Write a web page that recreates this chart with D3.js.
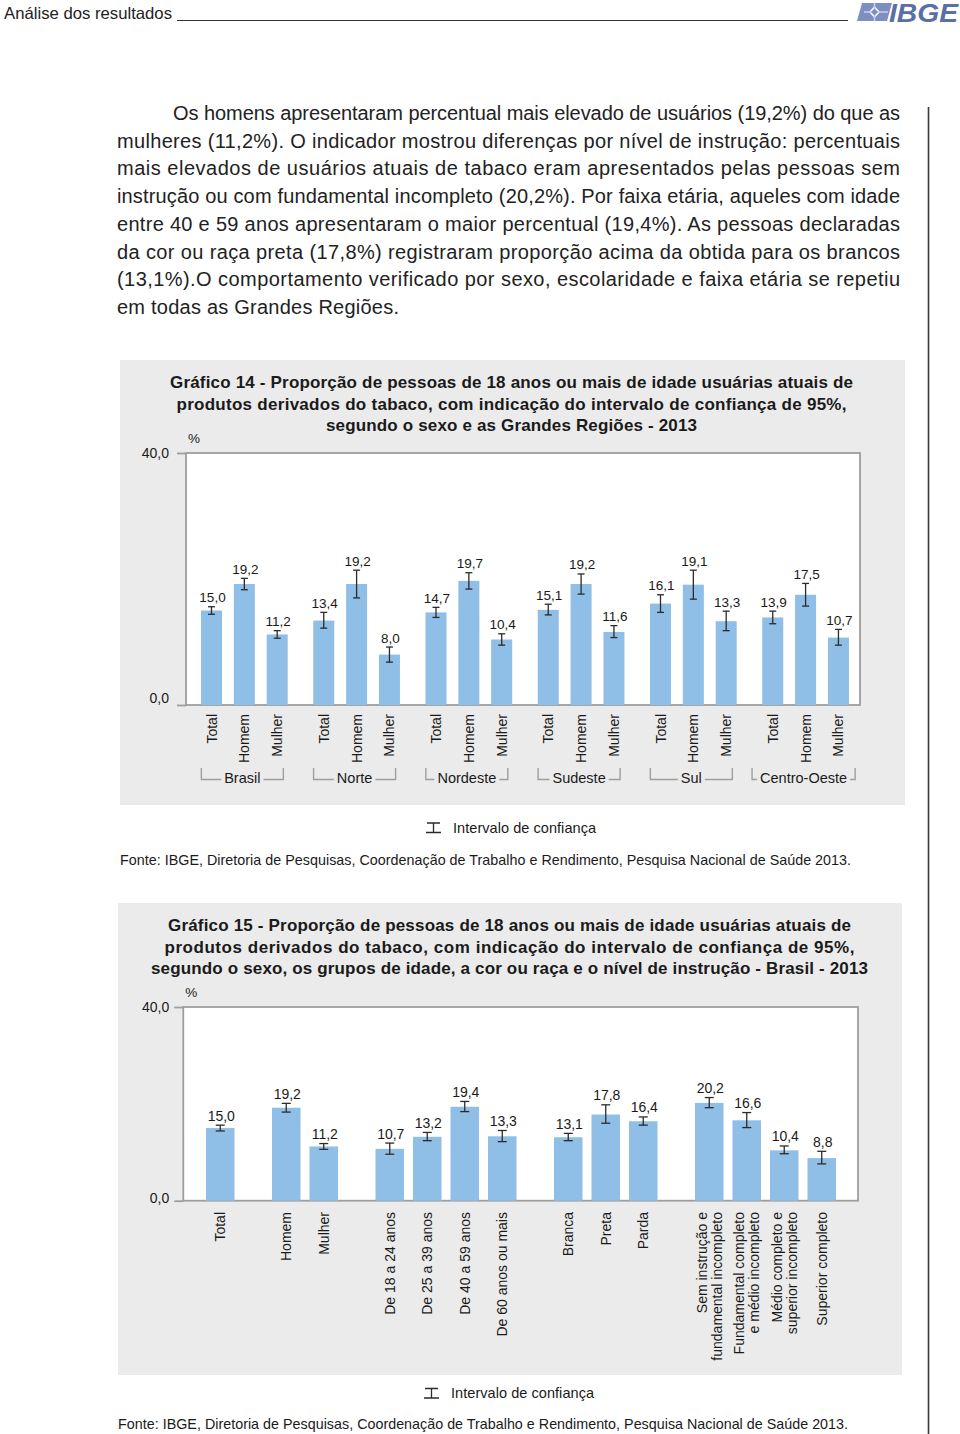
<!DOCTYPE html>
<html><head><meta charset="utf-8">
<script src="https://cdn.jsdelivr.net/npm/d3@7"></script>
<style>
html,body{margin:0;padding:0;background:#fff;}
svg{display:block;font-family:"Liberation Sans",Arial,sans-serif;}
</style></head>
<body>
<svg id="page" width="960" height="1434"></svg>
<script>
// ---------- DATA ----------
const bodyLines = [
  "Os homens apresentaram percentual mais elevado de usuários (19,2%) do que as",
  "mulheres (11,2%). O indicador mostrou diferenças por nível de instrução: percentuais",
  "mais elevados de usuários atuais de tabaco eram apresentados pelas pessoas sem",
  "instrução ou com fundamental incompleto (20,2%). Por faixa etária, aqueles com idade",
  "entre 40 e 59 anos apresentaram o maior percentual (19,4%). As pessoas declaradas",
  "da cor ou raça preta (17,8%) registraram proporção acima da obtida para os brancos",
  "(13,1%).O comportamento verificado por sexo, escolaridade e faixa etária se repetiu",
  "em todas as Grandes Regiões."
];
const title14 = [
  "Gráfico 14 - Proporção de pessoas de 18 anos ou mais de idade usuárias atuais de",
  "produtos derivados do tabaco, com indicação do intervalo de confiança de 95%,",
  "segundo o sexo e as Grandes Regiões - 2013"
];
const title15 = [
  "Gráfico 15 - Proporção de pessoas de 18 anos ou mais de idade usuárias atuais de",
  "produtos derivados do tabaco, com indicação do intervalo de confiança de 95%,",
  "segundo o sexo, os grupos de idade, a cor ou raça e o nível de instrução - Brasil - 2013"
];
const fonteText = "Fonte: IBGE, Diretoria de Pesquisas, Coordenação de Trabalho e Rendimento, Pesquisa Nacional de Saúde 2013.";
const legendText = "Intervalo de confiança";
const yTicks = [0, 40];

// Gráfico 14
const regions = ["Brasil", "Norte", "Nordeste", "Sudeste", "Sul", "Centro-Oeste"];
const sexes = ["Total", "Homem", "Mulher"];
const values14 = [15.0, 19.2, 11.2, 13.4, 19.2, 8.0, 14.7, 19.7, 10.4, 15.1, 19.2, 11.6, 16.1, 19.1, 13.3, 13.9, 17.5, 10.7];
const lower14  = [14.4, 18.3, 10.6, 12.2, 17.0, 6.8, 13.9, 18.4, 9.5, 14.3, 17.6, 10.7, 14.7, 16.8, 11.8, 12.9, 15.7, 9.5];
const upper14  = [15.6, 20.1, 11.8, 14.7, 21.4, 9.2, 15.5, 21.0, 11.3, 16.0, 20.8, 12.6, 17.5, 21.4, 14.9, 14.9, 19.3, 12.0];

// Gráfico 15
const categories15 = ["Total", "Homem", "Mulher",
  "De 18 a 24 anos", "De 25 a 39 anos", "De 40 a 59 anos", "De 60 anos ou mais",
  "Branca", "Preta", "Parda",
  "Sem instrução e|fundamental incompleto", "Fundamental completo|e médio incompleto",
  "Médio completo e|superior incompleto", "Superior completo"];
const groupOf15 = [0, 1, 1, 2, 2, 2, 2, 3, 3, 3, 4, 4, 4, 4];
const values15 = [15.0, 19.2, 11.2, 10.7, 13.2, 19.4, 13.3, 13.1, 17.8, 16.4, 20.2, 16.6, 10.4, 8.8];
const lower15  = [14.4, 18.3, 10.6, 9.6, 12.4, 18.4, 12.2, 12.4, 16.0, 15.6, 19.2, 15.1, 9.7, 7.6];
const upper15  = [15.6, 20.1, 11.8, 11.9, 14.1, 20.5, 14.5, 13.9, 19.8, 17.3, 21.3, 18.2, 11.3, 10.2];

// ---------- STYLE ----------
const BAR = "#8fbee6", PANEL = "#ebebeb", AXIS = "#9e9e9e", INK = "#1a1a1a", ERR = "#2b2b2b";
const fmt = v => d3.format(".1f")(v).replace(".", ",");

const svg = d3.select("#page");

// ---------- HEADER ----------
svg.append("text").attr("x", 4).attr("y", 19).attr("font-size", 16.5).attr("fill", "#222")
  .attr("textLength", 168).attr("lengthAdjust", "spacingAndGlyphs").text("Análise dos resultados");
svg.append("line").attr("x1", 177).attr("x2", 848).attr("y1", 20.5).attr("y2", 20.5)
  .attr("stroke", "#333").attr("stroke-width", 1);
// logo
const logo = svg.append("g");
logo.append("path").attr("d", "M862,3 L892,3 L887,21 L857,21 Z").attr("fill", "#7d8fc0");
logo.append("path").attr("d", "M874.5,6 L880,12 L874.5,18 L869,12 Z").attr("fill", "#ffffff");
logo.append("path").attr("d", "M864,12 L888,12 M874.5,3 L874.5,21").attr("stroke", "#c6cfe6").attr("stroke-width", 1.6);
logo.append("path").attr("d", "M874.5,8.5 L878,12 L874.5,15.5 L871,12 Z").attr("fill", "#7d8fc0");
logo.append("text").attr("x", 889).attr("y", 21.5).attr("font-size", 25).attr("font-weight", "bold")
  .attr("font-style", "italic").attr("fill", "#5a6ea8").attr("textLength", 69).attr("lengthAdjust", "spacingAndGlyphs").text("IBGE");

// right margin rule
svg.append("line").attr("x1", 928.5).attr("x2", 928.5).attr("y1", 107).attr("y2", 1434)
  .attr("stroke", "#3a3a3a").attr("stroke-width", 1.6);

// ---------- BODY TEXT ----------
bodyLines.forEach((t, i) => {
  const x0 = i === 0 ? 173 : 117;
  const last = i === bodyLines.length - 1;
  svg.append("text").attr("x", x0).attr("y", 120 + i * 27.7).attr("font-size", 20).attr("fill", "#222")
    .attr("textLength", last ? 282 : 900 - x0).attr("lengthAdjust", "spacing").text(t);
});

// ---------- helper: chart frame ----------
function frame(cfg) {
  const g = svg.append("g");
  g.append("rect").attr("x", cfg.panel[0]).attr("y", cfg.panel[1]).attr("width", cfg.panel[2]).attr("height", cfg.panel[3]).attr("fill", PANEL);
  cfg.title.forEach((t, i) => {
    g.append("text").attr("x", cfg.titleX).attr("y", cfg.titleY + i * 21.5).attr("text-anchor", "middle")
      .attr("font-size", 17).attr("font-weight", "bold").attr("fill", INK)
      .attr("textLength", cfg.titleW[i]).attr("lengthAdjust", "spacing").text(t);
  });
  // plot area
  g.append("rect").attr("x", cfg.x0).attr("y", cfg.y.range()[1]).attr("width", cfg.x1 - cfg.x0)
    .attr("height", cfg.y.range()[0] - cfg.y.range()[1]).attr("fill", "#fff")
    .attr("stroke", AXIS).attr("stroke-width", 1.8);
  // y axis
  const ax = g.append("g").attr("transform", `translate(${cfg.x0},0)`)
    .call(d3.axisLeft(cfg.y).tickValues(yTicks).tickFormat(fmt).tickSize(9).tickPadding(cfg.pad));
  ax.select(".domain").remove();
  ax.selectAll(".tick line").attr("stroke", AXIS).attr("stroke-width", 1.8);
  ax.selectAll(".tick text").attr("font-size", 14).attr("fill", INK).attr("font-family", "Liberation Sans, Arial, sans-serif")
    .attr("dy", d => d === 0 ? cfg.zeroDy : "0.35em");
  g.append("text").attr("x", cfg.x0 + 2).attr("y", cfg.y.range()[1] - 10).attr("font-size", 13.5).attr("fill", INK).text("%");
  return g;
}

function bars(g, data, x, y, bw, capW, labelSize) {
  const b = g.append("g");
  b.selectAll("rect.bar").data(data).join("rect").attr("class", "bar")
    .attr("x", d => x(d.pos)).attr("width", bw)
    .attr("y", d => y(d.v)).attr("height", d => y(0) - y(d.v)).attr("fill", BAR);
  const e = b.selectAll("g.err").data(data).join("g").attr("class", "err")
    .attr("transform", d => `translate(${x(d.pos) + bw / 2},0)`);
  e.append("line").attr("y1", d => y(d.lo)).attr("y2", d => y(d.hi)).attr("stroke", ERR).attr("stroke-width", 1.3);
  e.append("line").attr("x1", -capW / 2).attr("x2", capW / 2).attr("y1", d => y(d.lo)).attr("y2", d => y(d.lo)).attr("stroke", ERR).attr("stroke-width", 1.3);
  e.append("line").attr("x1", -capW / 2).attr("x2", capW / 2).attr("y1", d => y(d.hi)).attr("y2", d => y(d.hi)).attr("stroke", ERR).attr("stroke-width", 1.3);
  e.append("text").attr("y", d => y(d.hi) - 4.5).attr("x", 1).attr("text-anchor", "middle")
    .attr("font-size", labelSize).attr("fill", INK).text(d => fmt(d.v));
}

function legend(g, x, y) {
  g.append("path").attr("d", `M${x + 1},${y} H${x + 14} M${x + 7.5},${y} V${y + 9.5} M${x},${y + 9.5} H${x + 15}`)
    .attr("stroke", ERR).attr("stroke-width", 1.3).attr("fill", "none");
  g.append("text").attr("x", x + 27).attr("y", y + 9.5).attr("font-size", 14.5).attr("fill", INK)
    .attr("textLength", 143).attr("lengthAdjust", "spacing").text(legendText);
}

// ---------- GRÁFICO 14 ----------
const y14 = d3.scaleLinear().domain([0, 40]).range([705, 453]);
const g14 = frame({ panel: [120, 360, 785, 445], title: title14, titleX: 511.5, titleY: 388,
  titleW: [683, 670, 371], x0: 186, x1: 860, y: y14, pad: 8, zeroDy: "-0.2em" });
const gap14 = 0.417;
const x14 = d3.scaleLinear().domain([0, 1]).range([201, 233.85]);
const data14 = values14.map((v, k) => {
  const gi = Math.floor(k / 3), si = k % 3;
  return { v, lo: lower14[k], hi: upper14[k], g: gi, s: si, pos: k + gi * gap14 };
});
bars(g14, data14, x14, y14, 21, 7, 13.5);
// category labels
g14.selectAll("g.cat").data(data14).join("g").attr("class", "cat")
  .attr("transform", d => `translate(${x14(d.pos) + 10.5},714) rotate(-90)`)
  .append("text").attr("text-anchor", "end").attr("dy", "0.36em").attr("font-size", 14).attr("fill", INK)
  .text(d => sexes[d.s]);
// region brackets
regions.forEach((r, gi) => {
  const left = x14(gi * 3 + gi * gap14), right = x14(gi * 3 + 2 + gi * gap14) + 21;
  const cx = (left + right) / 2 - 2;
  const t = g14.append("text").attr("x", cx).attr("y", 783).attr("text-anchor", "middle").attr("font-size", 14.5).attr("fill", INK).text(r);
  const w = t.node().getComputedTextLength();
  const half = Math.max(41, w / 2 + 8);
  const L = cx - half, R = cx + half;
  g14.append("path").attr("d", `M${L},768 V779.5 H${cx - w / 2 - 3} M${cx + w / 2 + 3},779.5 H${R} V768`)
    .attr("stroke", AXIS).attr("stroke-width", 1.4).attr("fill", "none");
});
legend(svg, 426, 823);
svg.append("text").attr("x", 120).attr("y", 865).attr("font-size", 14.3).attr("fill", INK)
  .attr("textLength", 731).attr("lengthAdjust", "spacing").text(fonteText);

// ---------- GRÁFICO 15 ----------
const y15 = d3.scaleLinear().domain([0, 40]).range([1200.7, 1007]);
const g15 = frame({ panel: [118, 903, 784, 472], title: title15, titleX: 509.5, titleY: 931,
  titleW: [683, 690, 717], x0: 183.3, x1: 858, y: y15, pad: 5, zeroDy: "0.1em" });
const gap15 = 0.76;
const x15 = d3.scaleLinear().domain([0, 1]).range([206, 243.5]);
const data15 = values15.map((v, k) => ({ v, lo: lower15[k], hi: upper15[k], pos: k + groupOf15[k] * gap15, label: categories15[k] }));
bars(g15, data15, x15, y15, 28.5, 9, 14);
const cat15 = g15.selectAll("g.cat").data(data15).join("g").attr("class", "cat")
  .attr("transform", d => `translate(${x15(d.pos) + 14.25},1212) rotate(-90)`);
cat15.each(function (d) {
  const lines = d.label.split("|");
  const n = lines.length;
  lines.forEach((ln, j) => {
    d3.select(this).append("text").attr("text-anchor", "end").attr("font-size", 14).attr("fill", INK)
      .attr("y", (j - (n - 1) / 2) * 15).attr("dy", "0.36em").text(ln);
  });
});
legend(svg, 424, 1388.5);
svg.append("text").attr("x", 118).attr("y", 1429).attr("font-size", 14.3).attr("fill", INK)
  .attr("textLength", 730).attr("lengthAdjust", "spacing").text(fonteText);
</script>
</body></html>
